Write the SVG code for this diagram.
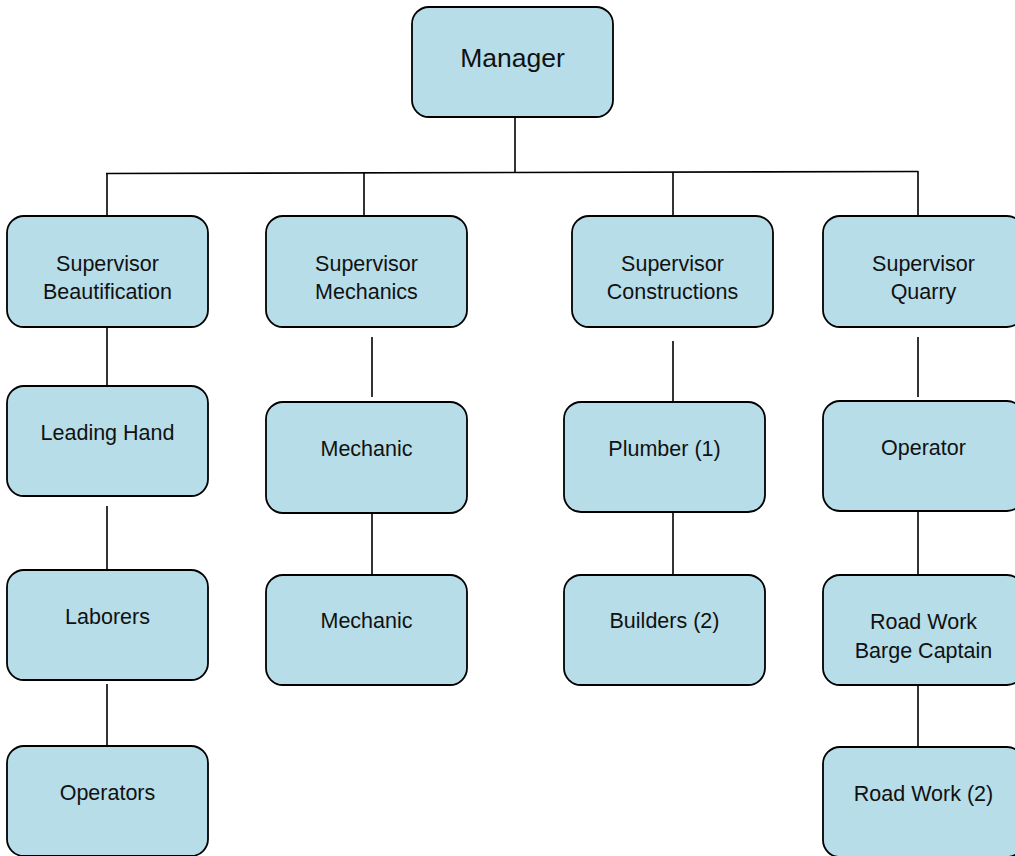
<svg xmlns="http://www.w3.org/2000/svg" width="1015" height="856" viewBox="0 0 1015 856">
  <style>
    .box { fill: #b7dde8; stroke: #000; stroke-width: 1.8; }
    .lbl { font-family: "Liberation Sans", Arial, sans-serif; font-size: 21.5px; fill: #111; text-anchor: middle; }
    .big { font-size: 26.5px; }
    .conn line { stroke: #000; stroke-width: 1.6; fill: none; }
  </style>
  <rect width="1015" height="856" fill="#fff"/>

  <!-- connectors -->
  <g id="connectors" class="conn">
    <line x1="515" y1="117" x2="515" y2="172.5"/>
    <line x1="106" y1="173.5" x2="918" y2="171.5"/>
    <line x1="107" y1="173" x2="107" y2="216"/>
    <line x1="364" y1="172.5" x2="364" y2="216"/>
    <line x1="673" y1="172" x2="673" y2="216"/>
    <line x1="918" y1="171" x2="918" y2="216"/>
    <!-- Beautification column -->
    <line x1="107" y1="327" x2="107" y2="386"/>
    <line x1="107" y1="506" x2="107" y2="570"/>
    <line x1="107" y1="684" x2="107" y2="746"/>
    <!-- Mechanics column -->
    <line x1="372" y1="337" x2="372" y2="397"/>
    <line x1="372" y1="513" x2="372" y2="575"/>
    <!-- Constructions column -->
    <line x1="673" y1="341" x2="673" y2="402"/>
    <line x1="673" y1="512" x2="673" y2="575"/>
    <!-- Quarry column -->
    <line x1="918" y1="337" x2="918" y2="397"/>
    <line x1="918" y1="511" x2="918" y2="575"/>
    <line x1="918" y1="685" x2="918" y2="747"/>
  </g>

  <g id="manager">
    <rect class="box" x="412" y="7" width="201" height="110" rx="17"/>
    <text class="lbl big" x="512.5" y="67">Manager</text>
  </g>

  <g id="sup-beautification">
    <rect class="box" x="7" y="216" width="201" height="111" rx="17"/>
    <text class="lbl" x="107.5" y="271">Supervisor</text>
    <text class="lbl" x="107.5" y="299">Beautification</text>
  </g>
  <g id="sup-mechanics">
    <rect class="box" x="266" y="216" width="201" height="111" rx="17"/>
    <text class="lbl" x="366.5" y="271">Supervisor</text>
    <text class="lbl" x="366.5" y="299">Mechanics</text>
  </g>
  <g id="sup-constructions">
    <rect class="box" x="572" y="216" width="201" height="111" rx="17"/>
    <text class="lbl" x="672.5" y="271">Supervisor</text>
    <text class="lbl" x="672.5" y="299">Constructions</text>
  </g>
  <g id="sup-quarry">
    <rect class="box" x="823" y="216" width="201" height="111" rx="17"/>
    <text class="lbl" x="923.5" y="271">Supervisor</text>
    <text class="lbl" x="923.5" y="299">Quarry</text>
  </g>

  <g id="leading-hand">
    <rect class="box" x="7" y="386" width="201" height="110" rx="17"/>
    <text class="lbl" x="107.5" y="440">Leading Hand</text>
  </g>
  <g id="laborers">
    <rect class="box" x="7" y="570" width="201" height="110" rx="17"/>
    <text class="lbl" x="107.5" y="624">Laborers</text>
  </g>
  <g id="operators">
    <rect class="box" x="7" y="746" width="201" height="110" rx="17"/>
    <text class="lbl" x="107.5" y="800">Operators</text>
  </g>

  <g id="mechanic-1">
    <rect class="box" x="266" y="402" width="201" height="111" rx="17"/>
    <text class="lbl" x="366.5" y="456">Mechanic</text>
  </g>
  <g id="mechanic-2">
    <rect class="box" x="266" y="575" width="201" height="110" rx="17"/>
    <text class="lbl" x="366.5" y="628">Mechanic</text>
  </g>

  <g id="plumber">
    <rect class="box" x="564" y="402" width="201" height="110" rx="17"/>
    <text class="lbl" x="664.5" y="456">Plumber (1)</text>
  </g>
  <g id="builders">
    <rect class="box" x="564" y="575" width="201" height="110" rx="17"/>
    <text class="lbl" x="664.5" y="628">Builders (2)</text>
  </g>

  <g id="operator">
    <rect class="box" x="823" y="401" width="201" height="110" rx="17"/>
    <text class="lbl" x="923.5" y="455">Operator</text>
  </g>
  <g id="barge-captain">
    <rect class="box" x="823" y="575" width="201" height="110" rx="17"/>
    <text class="lbl" x="923.5" y="629">Road Work</text>
    <text class="lbl" x="923.5" y="658">Barge Captain</text>
  </g>
  <g id="road-work">
    <rect class="box" x="823" y="747" width="201" height="110" rx="17"/>
    <text class="lbl" x="923.5" y="801">Road Work (2)</text>
  </g>
</svg>
